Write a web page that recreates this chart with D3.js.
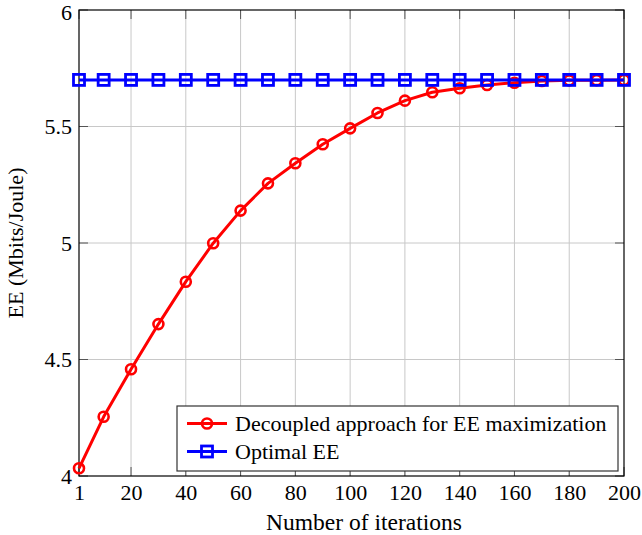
<!DOCTYPE html>
<html lang="en">
  <head>
    <meta charset="UTF-8">
    <title>EE vs iterations</title>
    <style>
      body { margin: 0; background: #fff; }
      svg text { font-family: "Liberation Serif", "Times New Roman", serif !important; fill: #000; }
    </style>
  </head>
  <body>
    <div id="data_viz_area"></div>
    <script src="https://d3js.org/d3.v7.js"></script>
    <script>
        // data
        var iterations = [1, 10, 20, 30, 40, 50, 60, 70, 80, 90, 100, 110, 120, 130, 140, 150, 160, 170, 180, 190, 200];
        var decoupledEE = [4.033, 4.254, 4.458, 4.652, 4.834, 4.999, 5.139, 5.256, 5.342, 5.424, 5.492, 5.558, 5.611, 5.647, 5.664, 5.678, 5.688, 5.695, 5.698, 5.699, 5.7];
        var optimalEE = [5.7, 5.7, 5.7, 5.7, 5.7, 5.7, 5.7, 5.7, 5.7, 5.7, 5.7, 5.7, 5.7, 5.7, 5.7, 5.7, 5.7, 5.7, 5.7, 5.7, 5.7];
        var xTicks = [1, 20, 40, 60, 80, 100, 120, 140, 160, 180, 200];
        var yTicks = [4, 4.5, 5, 5.5, 6];
        var legendLabels = ["Decoupled approach for EE maximization", "Optimal EE"];

        var margin = {top: 10, right: 18, bottom: 59, left: 79},
            width = 642 - margin.left - margin.right,
            height = 535 - margin.top - margin.bottom;
        var fs = "22px";

        var svg = d3.select("#data_viz_area")
          .append("svg")
            .attr("width", 642)
            .attr("height", 535);

        var g = svg.append("g")
            .attr("transform", "translate(" + margin.left + "," + margin.top + ")");

        var x = d3.scaleLinear().domain([1, 200]).range([0, width]);
        var y = d3.scaleLinear().domain([4, 6]).range([height, 0]);

        // grid
        g.append("g").selectAll("line")
          .data(xTicks.slice(1, -1))
          .enter().append("line")
            .attr("x1", d => x(d)).attr("x2", d => x(d))
            .attr("y1", 0).attr("y2", height)
            .attr("stroke", "#c8c8c8").attr("stroke-width", 1);
        g.append("g").selectAll("line")
          .data(yTicks.slice(1, -1))
          .enter().append("line")
            .attr("y1", d => y(d)).attr("y2", d => y(d))
            .attr("x1", 0).attr("x2", width)
            .attr("stroke", "#c8c8c8").attr("stroke-width", 1);

        // tick labels
        g.append("g").call(d3.axisBottom(x).tickValues(xTicks).tickSize(0).tickPadding(8))
          .attr("transform", "translate(0," + height + ")")
          .call(a => a.select(".domain").remove())
          .selectAll("text").style("font-size", fs).attr("fill", "#000");
        g.append("g").call(d3.axisLeft(y).tickValues(yTicks).tickSize(0).tickPadding(7).tickFormat(d3.format("")))
          .call(a => a.select(".domain").remove())
          .selectAll("text").style("font-size", fs).attr("fill", "#000")
          .attr("dy", d => d === 6 ? "0.45em" : "0.32em");

        // inward ticks on all four sides
        var tl = 9;
        var tickG = g.append("g").attr("stroke", "#555").attr("stroke-width", 1);
        xTicks.forEach(function(t) {
          tickG.append("line").attr("x1", x(t)).attr("x2", x(t)).attr("y1", height).attr("y2", height - tl);
          tickG.append("line").attr("x1", x(t)).attr("x2", x(t)).attr("y1", 0).attr("y2", tl);
        });
        yTicks.forEach(function(t) {
          tickG.append("line").attr("y1", y(t)).attr("y2", y(t)).attr("x1", 0).attr("x2", tl);
          tickG.append("line").attr("y1", y(t)).attr("y2", y(t)).attr("x1", width).attr("x2", width - tl);
        });

        // frame
        g.append("rect")
            .attr("width", width).attr("height", height)
            .attr("fill", "none").attr("stroke", "#000").attr("stroke-width", 1.2);

        var line = d3.line()
            .x((d, i) => x(iterations[i]))
            .y(d => y(d));

        // decoupled series
        g.append("path").datum(decoupledEE)
            .attr("d", line)
            .attr("fill", "none").attr("stroke", "#ff0000").attr("stroke-width", 3)
            .attr("stroke-linejoin", "round");
        g.selectAll(".redmark").data(decoupledEE).enter()
          .append("circle")
            .attr("cx", (d, i) => x(iterations[i]))
            .attr("cy", d => y(d))
            .attr("r", 5)
            .attr("fill", "none").attr("stroke", "#ff0000").attr("stroke-width", 2.6);

        // optimal series
        g.append("path").datum(optimalEE)
            .attr("d", line)
            .attr("fill", "none").attr("stroke", "#0000ff").attr("stroke-width", 3);
        g.selectAll(".bluemark").data(optimalEE).enter()
          .append("rect")
            .attr("x", (d, i) => x(iterations[i]) - 5.5)
            .attr("y", d => y(d) - 5.5)
            .attr("width", 11).attr("height", 11)
            .attr("fill", "none").attr("stroke", "#0000ff").attr("stroke-width", 2.8);

        // legend
        var leg = svg.append("g").attr("transform", "translate(177,406)");
        leg.append("rect")
            .attr("width", 441).attr("height", 65)
            .attr("fill", "#fff").attr("stroke", "#333").attr("stroke-width", 1.2);
        var colors = ["#ff0000", "#0000ff"];
        legendLabels.forEach(function(lbl, i) {
          var ly = 17.5 + i * 28;
          leg.append("line").attr("x1", 10).attr("x2", 50).attr("y1", ly).attr("y2", ly)
            .attr("stroke", colors[i]).attr("stroke-width", 3);
          if (i === 0) {
            leg.append("circle").attr("cx", 30).attr("cy", ly).attr("r", 5)
              .attr("fill", "none").attr("stroke", colors[i]).attr("stroke-width", 2.6);
          } else {
            leg.append("rect").attr("x", 24.5).attr("y", ly - 5.5).attr("width", 11).attr("height", 11)
              .attr("fill", "none").attr("stroke", colors[i]).attr("stroke-width", 2.8);
          }
          leg.append("text").attr("x", 58).attr("y", ly).attr("dy", "0.35em")
            .style("font-size", fs).text(lbl);
        });

        // axis labels
        svg.append("text")
            .attr("x", 364).attr("y", 530)
            .attr("text-anchor", "middle").style("font-size", "23.5px")
            .text("Number of iterations");
        svg.append("text")
            .attr("transform", "translate(23," + (margin.top + height / 2) + ") rotate(-90)")
            .attr("text-anchor", "middle").style("font-size", fs)
            .text("EE (Mbits/Joule)");
    </script>
  </body>
</html>
